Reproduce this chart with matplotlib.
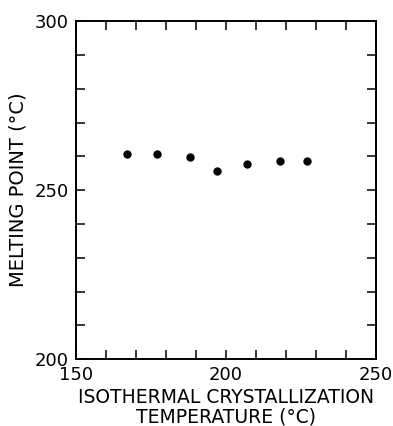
import numpy as np
import matplotlib
matplotlib.use("Agg")
import matplotlib.pyplot as plt
from matplotlib.ticker import MultipleLocator

# isothermal crystallization temperature (C) vs. resulting melting point (C)
cryst_temp = [167, 177, 188, 197, 207, 218, 227]
melt_point = [260.7, 260.6, 259.7, 255.6, 257.8, 258.6, 258.5]

x_ticks = [150, 200, 250]
y_ticks = [200, 250, 300]

plt.rcParams['font.family'] = ['DejaVu Sans']

fig = plt.figure(figsize=(3.93, 4.26), dpi=100)
ax = fig.add_axes([0.1934, 0.1566, 0.7634, 0.794])

ax.plot(cryst_temp, melt_point, 'o', color='black', ms=6, mew=0)

ax.set_xlim(150, 250)
ax.set_ylim(200, 300)
ax.set_xticks(x_ticks)
ax.set_yticks(y_ticks)
ax.xaxis.set_minor_locator(MultipleLocator(10))
ax.yaxis.set_minor_locator(MultipleLocator(10))

ax.tick_params(which='both', direction='in', top=True, right=True,
               length=6.5, width=1.1, labelsize=13, pad=5)

for sp in ax.spines.values():
    sp.set_linewidth(1.4)

ax.set_ylabel('MELTING POINT (°C)', fontsize=14, labelpad=5)
ax.set_xlabel('ISOTHERMAL CRYSTALLIZATION\nTEMPERATURE (°C)', fontsize=13.5,
              linespacing=1.0, labelpad=3)

fig.savefig('out.png', dpi=100)
